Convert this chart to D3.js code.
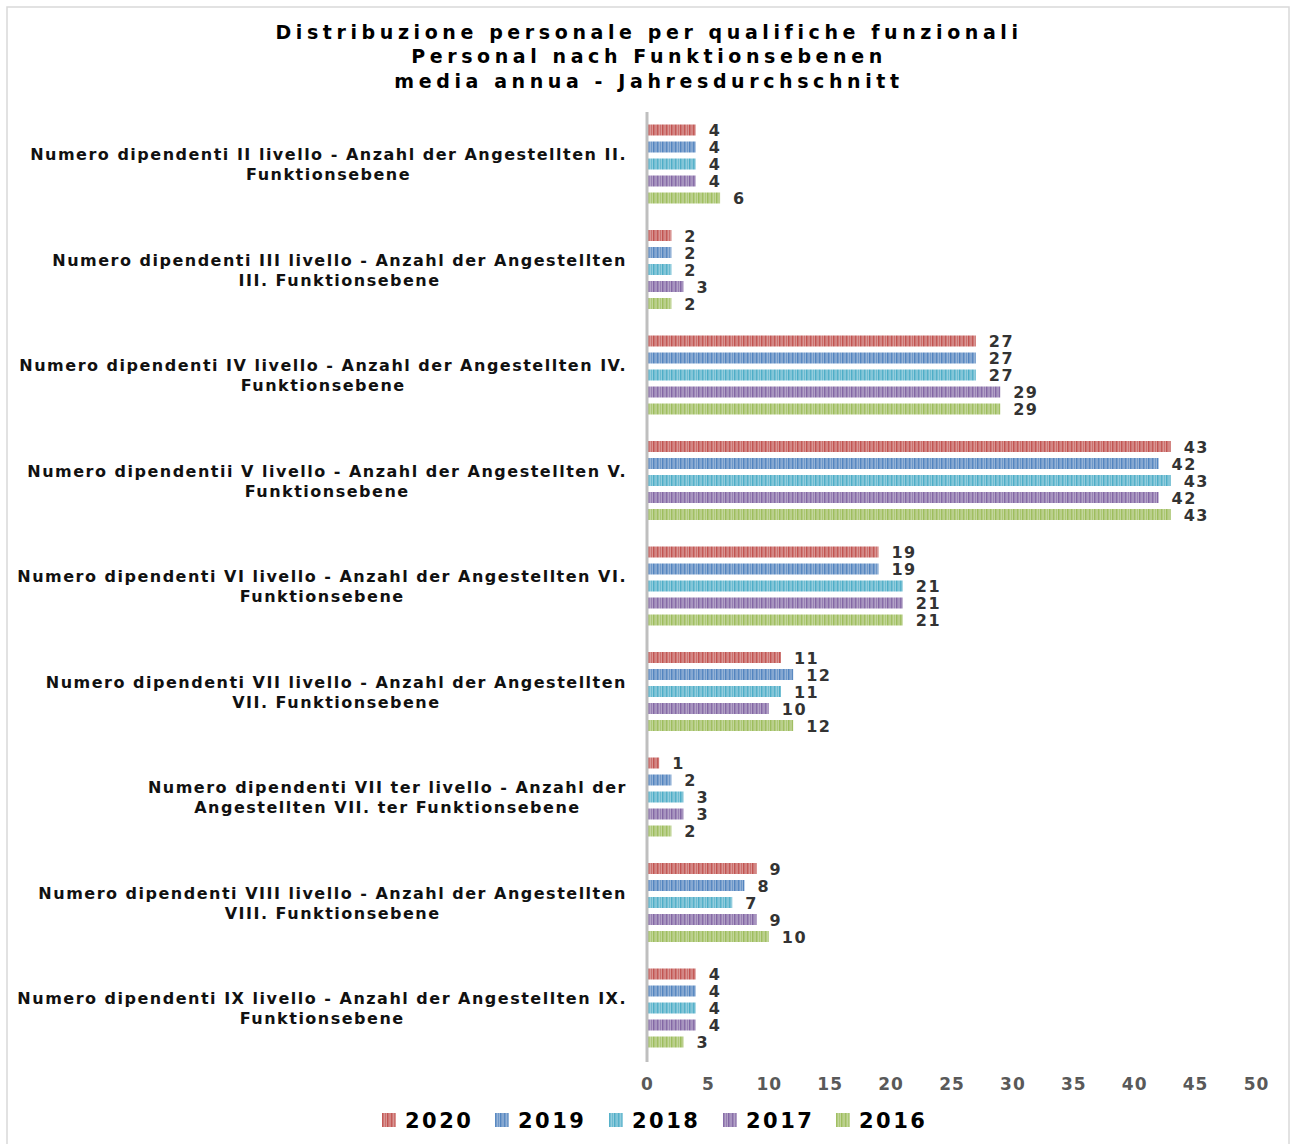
<!DOCTYPE html>
<html>
<head>
<meta charset="utf-8">
<script src="https://cdn.jsdelivr.net/npm/d3@7"></script>
<style>
  body { margin: 0; background: #fff; }
  svg text { font-family: "DejaVu Sans", Verdana, sans-serif; font-weight: bold; }
</style>
</head>
<body>
<svg id="svg"></svg>
<script>
// chart data
const titleLines = [
  "Distribuzione personale per qualifiche funzionali",
  "Personal nach Funktionsebenen",
  "media annua - Jahresdurchschnitt"
];
const categories = [
  ["Numero dipendenti II livello - Anzahl der Angestellten II.", "Funktionsebene"],
  ["Numero dipendenti III livello - Anzahl der Angestellten", "III. Funktionsebene"],
  ["Numero dipendenti IV livello - Anzahl der Angestellten IV.", "Funktionsebene"],
  ["Numero dipendentii V livello - Anzahl der Angestellten V.", "Funktionsebene"],
  ["Numero dipendenti VI livello - Anzahl der Angestellten VI.", "Funktionsebene"],
  ["Numero dipendenti VII livello - Anzahl der Angestellten", "VII. Funktionsebene"],
  ["Numero dipendenti VII ter livello - Anzahl der", "Angestellten VII. ter Funktionsebene"],
  ["Numero dipendenti VIII livello - Anzahl der Angestellten", "VIII. Funktionsebene"],
  ["Numero dipendenti IX livello - Anzahl der Angestellten IX.", "Funktionsebene"]
];
const years = ["2020", "2019", "2018", "2017", "2016"];
const colors = ["#c0504d", "#4f81bd", "#4bacc6", "#8064a2", "#9bbb59"];
const v2020 = [4, 2, 27, 43, 19, 11, 1, 9, 4];
const v2019 = [4, 2, 27, 42, 19, 12, 2, 8, 4];
const v2018 = [4, 2, 27, 43, 21, 11, 3, 7, 4];
const v2017 = [4, 3, 29, 42, 21, 10, 3, 9, 4];
const v2016 = [6, 2, 29, 43, 21, 12, 2, 10, 3];
const series = [v2020, v2019, v2018, v2017, v2016];
const xTicks = [0, 5, 10, 15, 20, 25, 30, 35, 40, 45, 50];

const width = 1291, height = 1144;
const svg = d3.select("#svg").attr("width", width).attr("height", height);

// outer frame
svg.append("path")
  .attr("d", `M7,${height} V7 H1289 V${height}`)
  .attr("fill", "none").attr("stroke", "#d9d9d9").attr("stroke-width", 1.5);

// striped fills
const defs = svg.append("defs");
colors.forEach(function (c, i) {
  const p = defs.append("pattern")
    .attr("id", "pat" + i).attr("patternUnits", "userSpaceOnUse")
    .attr("width", 9).attr("height", 20);
  p.append("rect").attr("width", 9).attr("height", 20).attr("fill", d3.interpolateRgb(c, "#fff")(0.4));
  [[0, 1.5, 0.85], [3, 1, 0.55], [5, 1.5, 0.95], [7.5, 1, 0.45]].forEach(function (s) {
    p.append("rect").attr("x", s[0]).attr("width", s[1]).attr("height", 20)
      .attr("fill", c).attr("opacity", s[2]);
  });
});

const x = d3.scaleLinear().domain([0, 50]).range([647, 1256]);
const y = d3.scaleBand().domain(d3.range(categories.length)).range([112, 1061.5]);
const yInner = d3.scaleBand().domain(d3.range(years.length))
  .range([9.5, 94.5]).paddingInner(6 / 17).paddingOuter(3 / 17);

// title
svg.append("g").selectAll("text").data(titleLines).join("text")
  .attr("x", 649).attr("y", function (d, i) { return 38.5 + i * 24.5; })
  .attr("text-anchor", "middle").attr("font-size", 19).attr("letter-spacing", 4.6)
  .attr("fill", "#000").text(function (d) { return d; });

// bars
const groups = svg.append("g").selectAll("g").data(categories).join("g")
  .attr("transform", function (d, i) { return `translate(0,${y(i)})`; });

groups.each(function (d, ci) {
  const g = d3.select(this);
  series.forEach(function (s, si) {
    g.append("rect")
      .attr("x", x(0)).attr("y", yInner(si))
      .attr("width", x(s[ci]) - x(0)).attr("height", yInner.bandwidth())
      .attr("fill", `url(#pat${si})`);
    g.append("text")
      .attr("x", x(s[ci]) + 13).attr("y", yInner(si) + yInner.bandwidth() / 2 + 6)
      .attr("font-size", 16).attr("letter-spacing", 1.5).attr("fill", "#333")
      .text(s[ci]);
  });
  g.append("text")
    .attr("font-size", 16).attr("letter-spacing", 1.5).attr("fill", "#111")
    .selectAll("tspan").data(d).join("tspan")
    .attr("y", function (t, i) { return y.bandwidth() / 2 + (i === 0 ? -4.5 : 15.5); })
    .text(function (t) { return t; });
});

// right-align first line at 627, center second line under it
groups.selectAll("text").filter(function () { return this.childNodes.length === 2; })
  .each(function () {
    const spans = d3.select(this).selectAll("tspan").nodes();
    const w0 = spans[0].getComputedTextLength();
    const mid = 627 - w0 / 2;
    d3.select(this).attr("text-anchor", "middle");
    d3.selectAll(spans).attr("x", mid);
  });

// axis
const xAxis = d3.axisBottom(x).tickValues(xTicks).tickSize(0).tickPadding(8);
const ax = svg.append("g").attr("transform", "translate(0,1070)").call(xAxis);
ax.select(".domain").remove();
ax.selectAll("text").attr("font-size", 17).attr("letter-spacing", 1).attr("fill", "#595959")
  .attr("font-family", "'DejaVu Sans', Verdana, sans-serif").attr("font-weight", "bold");
svg.append("line")
  .attr("x1", x(0)).attr("x2", x(0)).attr("y1", 112).attr("y2", 1062)
  .attr("stroke", "#bfbfbf").attr("stroke-width", 3);

// legend
const legendX = [382, 495, 609, 723, 836];
const lg = svg.append("g").selectAll("g").data(years).join("g")
  .attr("transform", function (d, i) { return `translate(${legendX[i]},1120)`; });
lg.append("rect").attr("x", 0).attr("y", -7).attr("width", 14).attr("height", 14)
  .attr("fill", function (d, i) { return `url(#pat${i})`; });
lg.append("text").attr("x", 23).attr("y", 8).attr("font-size", 21).attr("letter-spacing", 2.5)
  .attr("fill", "#000").text(function (d) { return d; });
</script>
</body>
</html>
